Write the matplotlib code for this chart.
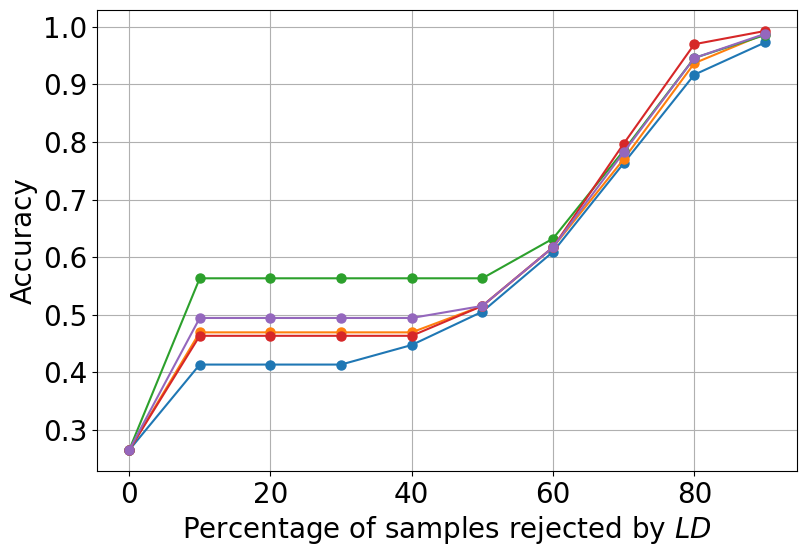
import matplotlib
matplotlib.use('Agg')
import matplotlib.pyplot as plt

# Rejection percentages
rejected = [0, 10, 20, 30, 40, 50, 60, 70, 80, 90]

# Accuracy per run
acc_blue = [0.264, 0.413, 0.413, 0.413, 0.447, 0.505, 0.609, 0.763, 0.917, 0.973]
acc_orange = [0.264, 0.469, 0.469, 0.469, 0.469, 0.515, 0.617, 0.770, 0.937, 0.988]
acc_green = [0.264, 0.563, 0.563, 0.563, 0.563, 0.563, 0.632, 0.785, 0.946, 0.986]
acc_red = [0.264, 0.463, 0.463, 0.463, 0.463, 0.515, 0.617, 0.797, 0.970, 0.993]
acc_purple = [0.264, 0.494, 0.494, 0.494, 0.494, 0.515, 0.617, 0.782, 0.946, 0.988]

yticks = [0.3, 0.4, 0.5, 0.6, 0.7, 0.8, 0.9, 1.0]

plt.rcParams['font.size'] = 20

fig, ax = plt.subplots(figsize=(8.04, 5.57), dpi=100)
for acc in [acc_blue, acc_orange, acc_green, acc_red, acc_purple]:
    ax.plot(rejected, acc, marker='o', linewidth=1.5, markersize=6.5)

ax.set_xlabel('Percentage of samples rejected by $LD$')
ax.set_ylabel('Accuracy')
ax.set_xticks([0, 20, 40, 60, 80])
ax.set_yticks(yticks)
ax.grid(True)

plt.subplots_adjust(left=0.121, right=0.991, top=0.982, bottom=0.154)
plt.savefig('out.png', dpi=100)
